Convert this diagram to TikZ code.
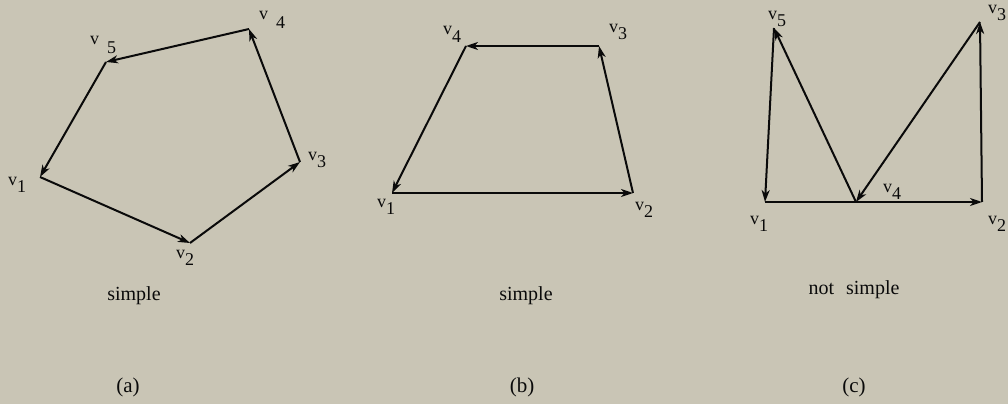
\documentclass[tikz,border=0pt]{standalone}
\usepackage{fontspec}
\setmainfont{Liberation Serif}
\usetikzlibrary{arrows.meta}
\definecolor{paper}{RGB}{201,197,181}
\definecolor{ink}{RGB}{10,10,10}
\newcommand{\vlab}[1]{v\raisebox{-7pt}{#1}}
\newcommand{\vlabgap}[1]{v\hspace{8pt}\raisebox{-9pt}{#1}}
\tikzset{
  edge/.style={draw=ink, line width=2pt, -{Stealth[length=12pt,width=8pt,inset=3.5pt]}},
  vlabel/.style={anchor=base west, inner sep=0pt, text=ink, font=\fontsize{18}{20}\selectfont},
  caption/.style={anchor=base, inner sep=0pt, text=ink, font=\fontsize{20}{22}\selectfont},
  panel/.style={anchor=base, inner sep=0pt, text=ink, font=\fontsize{21}{23}\selectfont}
}
\begin{document}
\begin{tikzpicture}[x=1pt,y=-1pt]
\fill[paper] (0,0) rectangle (1008,404);
\useasboundingbox (0,0) rectangle (1008,404);
% (a)
\coordinate (a1) at (40,177);
\coordinate (a2) at (190,243);
\coordinate (a3) at (300,162);
\coordinate (a4) at (249,29);
\coordinate (a5) at (106,62);
\draw[edge] (a1) -- (a2);
\draw[edge] (a2) -- (a3);
\draw[edge] (a3) -- (a4);
\draw[edge] (a4) -- (a5);
\draw[edge] (a5) -- (a1);
\node[vlabel] (la1) at (8,185) {\vlab{1}};
\node[vlabel] (la2) at (176,258) {\vlab{2}};
\node[vlabel] (la3) at (308,160) {\vlab{3}};
\node[vlabel] (la4) at (259,20) {\vlabgap{4}};
\node[vlabel] (la5) at (90,45) {\vlabgap{5}};
\node[caption] (ca) at (134,300) {simple};
\node[panel] (pa) at (128,392) {(a)};
% (b)
\coordinate (b1) at (392,193);
\coordinate (b2) at (633,193);
\coordinate (b3) at (599,46);
\coordinate (b4) at (466,46);
\draw[edge] (b1) -- (b2);
\draw[edge] (b2) -- (b3);
\draw[edge] (b3) -- (b4);
\draw[edge] (b4) -- (b1);
\node[vlabel] (lb1) at (377,207) {\vlab{1}};
\node[vlabel] (lb2) at (635,210) {\vlab{2}};
\node[vlabel] (lb3) at (609,33) {\vlab{3}};
\node[vlabel] (lb4) at (443,35) {\vlab{4}};
\node[caption] (cb) at (526,300) {simple};
\node[panel] (pb) at (522,392) {(b)};
% (c)
\coordinate (c1) at (765,202);
\coordinate (c2) at (982,202);
\coordinate (c3) at (980,22);
\coordinate (c4) at (856,202);
\coordinate (c5) at (774,28);
\draw[edge] (c1) -- (c2);
\draw[edge] (c2) -- (c3);
\draw[edge] (c3) -- (c4);
\draw[edge] (c4) -- (c5);
\draw[edge] (c5) -- (c1);
\node[vlabel] (lc1) at (750,224) {\vlab{1}};
\node[vlabel] (lc2) at (988,224) {\vlab{2}};
\node[vlabel] (lc3) at (988,14) {\vlab{3}};
\node[vlabel] (lc4) at (883,192) {\vlab{4}};
\node[vlabel] (lc5) at (768,20) {\vlab{5}};
\node[caption] (cc) at (854,294) {not\hspace{12pt}simple};
\node[panel] (pc) at (854,392) {(c)};
\end{tikzpicture}
\end{document}
